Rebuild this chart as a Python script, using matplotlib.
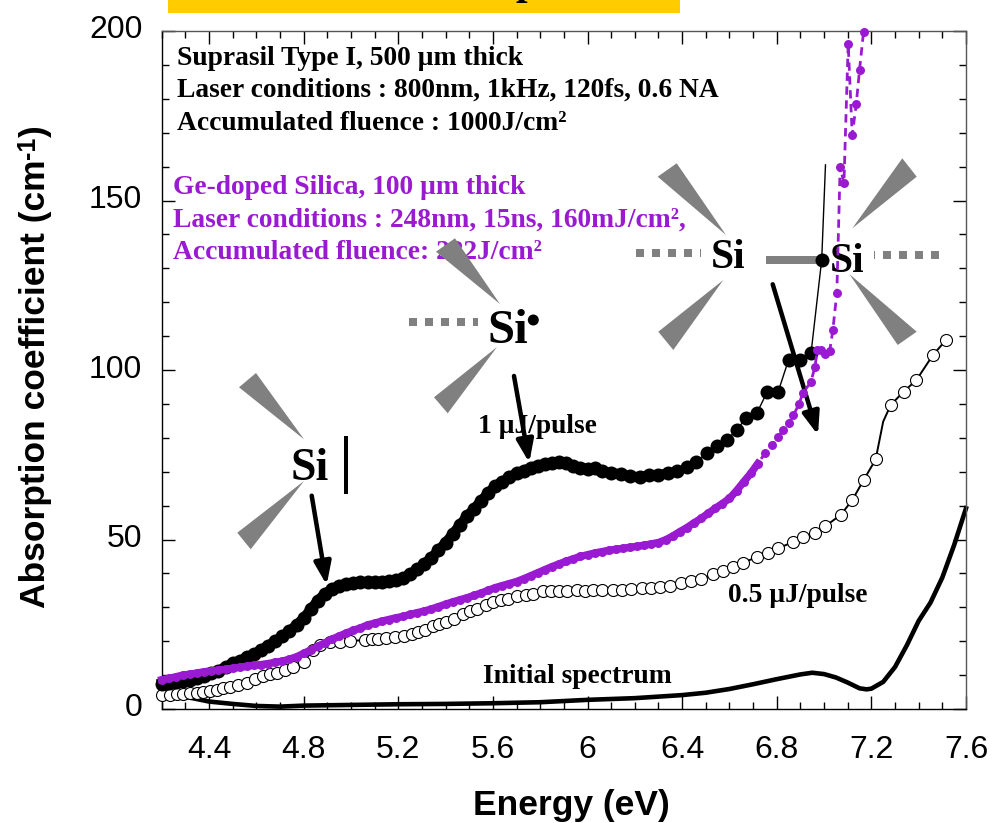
import matplotlib
matplotlib.use("Agg")
import matplotlib.pyplot as plt
from matplotlib.patches import Polygon, Rectangle, Circle
from matplotlib.ticker import MultipleLocator, FixedFormatter, FixedLocator
from matplotlib.transforms import ScaledTranslation

plt.rcParams['font.family'] = ['Liberation Sans', 'DejaVu Sans']

# 1 uJ/pulse
e_1uj = [4.20, 4.23, 4.26, 4.29, 4.32, 4.35, 4.38, 4.41, 4.44, 4.47, 4.50, 4.53, 4.56, 4.59, 4.62, 4.65,
         4.68, 4.71, 4.74, 4.77, 4.80, 4.83, 4.86, 4.89, 4.92, 4.95, 4.98, 5.01, 5.04, 5.07, 5.10, 5.13,
         5.16, 5.19, 5.22, 5.25, 5.28, 5.31, 5.34, 5.37, 5.40, 5.43, 5.46, 5.49, 5.52, 5.55, 5.58, 5.61,
         5.64, 5.67, 5.70, 5.73, 5.76, 5.79, 5.82, 5.85, 5.88, 5.91, 5.94, 5.97, 6.00, 6.03, 6.06, 6.10,
         6.14, 6.18, 6.22, 6.26, 6.30, 6.34, 6.38, 6.42, 6.46, 6.504, 6.546, 6.588, 6.63, 6.67, 6.716,
         6.76, 6.806, 6.85, 6.90, 6.945, 6.99, 7.006]
a_1uj = [7.5, 7.8, 8.0, 8.3, 8.6, 9.0, 9.6, 10.5, 11.3, 12.4, 13.5, 14.3, 15.2, 16.2, 17.4, 18.7,
         20.0, 21.4, 23.0, 24.8, 26.8, 29.4, 32.0, 34.0, 35.4, 36.4, 36.9, 37.1, 37.4, 37.5, 37.5, 37.5,
         37.7, 38.0, 38.6, 39.8, 41.2, 42.8, 44.6, 46.8, 49.0, 51.6, 54.2, 56.8, 59.0, 61.4, 63.6, 65.8,
         67.0, 68.4, 69.5, 70.3, 71.2, 71.8, 72.3, 72.6, 73.0, 72.5, 71.6, 71.0, 70.9, 71.0, 70.3, 69.6,
         69.3, 68.6, 68.4, 68.9, 69.0, 69.5, 70.2, 71.5, 73.0, 75.4, 77.7, 79.3, 82.3, 85.8, 87.3,
         93.6, 93.6, 103.0, 103.0, 105.0, 132.5, 160.5]

# 0.5 uJ/pulse
e_05uj = [4.20, 4.235, 4.263, 4.29, 4.32, 4.348, 4.375, 4.404, 4.432, 4.46, 4.489, 4.524, 4.559, 4.594,
          4.63, 4.658, 4.686, 4.72, 4.756, 4.80, 4.841, 4.869, 4.911, 4.954, 4.996, 5.059, 5.087, 5.115,
          5.15, 5.186, 5.224, 5.256, 5.285, 5.313, 5.348, 5.373, 5.402, 5.435, 5.475, 5.503, 5.531, 5.571,
          5.601, 5.633, 5.665, 5.703, 5.74, 5.768, 5.81, 5.845, 5.88, 5.914, 5.954, 5.988, 6.024, 6.06,
          6.106, 6.144, 6.182, 6.23, 6.27, 6.307, 6.347, 6.396, 6.438, 6.478, 6.531, 6.574, 6.616, 6.658,
          6.717, 6.761, 6.806, 6.867, 6.912, 6.96, 7.005, 7.071, 7.119, 7.167, 7.218, 7.25, 7.282, 7.336,
          7.39, 7.46, 7.515]
a_05uj = [4.1, 4.2, 4.3, 4.4, 4.6, 4.8, 4.9, 5.2, 5.6, 6.1, 6.6, 7.1, 7.8, 8.8,
          9.7, 10.2, 10.7, 11.5, 12.5, 14.0, 17.4, 18.8, 19.7, 19.9, 20.0, 20.4, 20.7, 20.7,
          20.9, 21.2, 21.6, 22.1, 22.7, 23.2, 24.6, 25.1, 25.8, 26.5, 27.9, 28.8, 29.5, 30.8,
          31.5, 32.1, 32.5, 33.4, 33.7, 34.0, 34.7, 34.9, 34.9, 34.9, 35.1, 34.8, 35.0, 35.0,
          35.1, 35.1, 35.3, 35.6, 35.6, 35.9, 36.3, 37.1, 37.8, 38.3, 39.7, 40.7, 41.9, 43.2,
          44.8, 46.0, 47.4, 49.2, 50.8, 51.9, 53.9, 57.3, 61.6, 67.5, 73.6, 84.8, 89.7, 93.6,
          97.0, 104.4, 108.8]
line_only_05uj = [7.25]

# Ge-doped silica
e_ge = [4.20, 4.23, 4.26, 4.29, 4.32, 4.35, 4.38, 4.41, 4.44, 4.47, 4.50, 4.53, 4.56, 4.59, 4.62, 4.65,
        4.68, 4.71, 4.74, 4.77, 4.80, 4.83, 4.86, 4.89, 4.92, 4.95, 4.98, 5.01, 5.04, 5.07, 5.10, 5.13,
        5.16, 5.19, 5.22, 5.25, 5.28, 5.31, 5.34, 5.37, 5.40, 5.43, 5.46, 5.49, 5.52, 5.55, 5.58, 5.61,
        5.64, 5.67, 5.70, 5.73, 5.76, 5.79, 5.82, 5.85, 5.88, 5.91, 5.94, 5.97, 6.00, 6.03, 6.06, 6.09,
        6.12, 6.15, 6.18, 6.21, 6.24, 6.27, 6.30, 6.33, 6.36, 6.39, 6.42, 6.45, 6.48, 6.51, 6.54, 6.57,
        6.60, 6.63, 6.66, 6.69, 6.72, 6.75, 6.782, 6.806, 6.827, 6.851, 6.87, 6.895, 6.909, 6.944, 6.961,
        6.972, 6.989, 7.006, 7.024, 7.037, 7.054, 7.068, 7.084, 7.102, 7.119, 7.136, 7.15, 7.167]
a_ge = [8.6, 9.0, 9.5, 10.0, 10.3, 10.6, 11.0, 11.2, 11.5, 11.7, 12.0, 12.3, 12.6, 12.9, 13.1, 13.4,
        13.8, 14.1, 14.7, 15.4, 16.4, 17.4, 18.5, 19.5, 20.6, 21.5, 22.4, 23.2, 23.9, 24.8, 25.3, 25.9,
        26.4, 26.9, 27.3, 27.9, 28.4, 28.9, 29.5, 30.2, 30.9, 31.6, 32.2, 32.8, 33.5, 34.2, 35.0, 35.8,
        36.4, 37.0, 37.6, 38.4, 39.3, 40.2, 41.1, 42.0, 42.8, 43.6, 44.3, 45.0, 45.5, 46.0, 46.4, 46.8,
        47.1, 47.4, 47.7, 48.0, 48.3, 48.7, 49.1, 49.9, 51.0, 52.3, 53.5, 54.9, 56.2, 57.7, 59.2, 60.6,
        62.1, 64.4, 67.0, 69.5, 72.4, 75.4, 77.9, 80.3, 82.3, 84.4, 86.7, 90.0, 93.1, 96.4, 100.8,
        105.9, 105.8, 104.6, 105.7, 111.7, 122.8, 160.0, 155.1, 196.2, 169.3, 178.4, 188.6, 199.8]

# initial spectrum
e_init = [4.22, 4.33, 4.40, 4.50, 4.60, 4.70, 4.80, 5.00, 5.20, 5.40, 5.60, 5.80, 6.00, 6.20, 6.40, 6.50,
          6.60, 6.70, 6.80, 6.90, 6.95, 7.00, 7.05, 7.10, 7.15, 7.18, 7.20, 7.25, 7.30, 7.35, 7.40, 7.45,
          7.50, 7.55, 7.60]
a_init = [4.5, 3.2, 2.2, 1.5, 0.9, 0.7, 1.0, 1.2, 1.4, 1.5, 1.7, 2.0, 2.7, 3.2, 4.1, 4.8,
          5.9, 7.3, 8.8, 10.2, 10.7, 10.3, 9.3, 7.8, 6.1, 5.8, 6.0, 8.0, 12.4, 18.8, 26.0, 31.4,
          38.8, 48.4, 59.2]

xtick_vals = [4.4, 4.8, 5.2, 5.6, 6.0, 6.4, 6.8, 7.2, 7.6]
xtick_labels = ['4.4', '4.8', '5.2', '5.6', '6', '6.4', '6.8', '7.2', '7.6']
ytick_vals = [0, 50, 100, 150, 200]

PURPLE = '#9A1AD2'
GRAY = '#808080'
W, H = 992, 823
px = 1 / 100 * 72  # points per pixel

fig = plt.figure(figsize=(W / 100, H / 100), dpi=100)

# overlay in image pixels, behind the data axes
ov = fig.add_axes([0, 0, 1, 1], zorder=1)
ov.set_xlim(0, W)
ov.set_ylim(H, 0)
ov.axis('off')

ax = fig.add_axes([161.7 / W, (H - 709) / H, (966 - 161.7) / W, (709 - 31) / H], zorder=2)
ax.patch.set_alpha(0)
ax.set_xlim(4.2, 7.6)
ax.set_ylim(0, 200)

ax.plot(e_init, a_init, color='k', lw=3.3, clip_on=False, zorder=2)

marks_05 = [i for i, e in enumerate(e_05uj) if e not in line_only_05uj]
ax.plot(e_05uj, a_05uj, color='k', lw=1.4, marker='o', ms=12 * px, mfc='white', mec='k', mew=0.8,
        markevery=marks_05, clip_on=False, zorder=3)

# markers run together below 6.4 eV
n_dense = e_1uj.index(6.38)
ax.plot(e_1uj[:n_dense], a_1uj[:n_dense], color='k', lw=10 * px, clip_on=False, zorder=4)
ax.plot(e_1uj, a_1uj, color='k', lw=1.0, marker='o', ms=14 * px, mew=0,
        markevery=list(range(len(e_1uj) - 1)), clip_on=False, zorder=4)

n_dense = e_ge.index(6.75)
ax.plot(e_ge[:n_dense], a_ge[:n_dense], color=PURPLE, lw=7.5 * px, clip_on=False, zorder=5)
ax.plot(e_ge, a_ge, color=PURPLE, lw=2.0, ls=(0, (3, 2)), marker='o', ms=9 * px, mew=0,
        clip_on=False, zorder=5)

ax.xaxis.set_major_locator(FixedLocator(xtick_vals))
ax.xaxis.set_major_formatter(FixedFormatter(xtick_labels))
ax.xaxis.set_minor_locator(MultipleLocator(0.1))
ax.yaxis.set_major_locator(FixedLocator(ytick_vals))
ax.yaxis.set_minor_locator(MultipleLocator(10))
ax.tick_params(which='major', direction='in', top=True, right=True, length=13 * px, width=1.0,
               labelsize=23)
ax.tick_params(which='minor', direction='in', top=True, right=True, length=7 * px, width=1.0)
ax.tick_params(axis='x', which='major', pad=19)
ax.tick_params(axis='y', which='major', pad=14)
for lab in ax.get_yticklabels():
    lab.set_transform(lab.get_transform() + ScaledTranslation(0, 4 / 100, fig.dpi_scale_trans))
for side in ['top', 'right']:
    ax.spines[side].set_color('#555555')
for side in ax.spines:
    ax.spines[side].set_linewidth(1.0)

ov.text(571, 805, 'Energy (eV)', ha='center', va='center', fontsize=25.5, fontweight='bold')

# y label in pieces so the exponent keeps a plain hyphen
renderer = fig.canvas.get_renderer()
ylab_y = 608
for piece, size, shift in [('Absorption coefficient (cm', 25.5, 0), ('-1', 18, 10), (')', 25.5, 0)]:
    t = ov.text(45 - shift, ylab_y, piece, rotation=90, rotation_mode='anchor', ha='left', va='baseline',
                fontsize=size, fontweight='bold')
    ylab_y -= t.get_window_extent(renderer).height

# banner cut off at the top of the slide
ov.add_patch(Rectangle((168, 0), 512, 13, color='#FFCC00', lw=0))
ov.text(527, -6, 'p', ha='center', va='baseline', fontsize=30, fontweight='bold',
        family='Liberation Serif', clip_on=True)


def note(x, y, s, color='k', size=19.8):
    ov.text(x, y, s, color=color, fontsize=size, fontweight='bold', family='Liberation Serif',
            ha='left', va='baseline')


note(177, 65, 'Suprasil Type I, 500 µm thick')
note(177, 96.7, 'Laser conditions : 800nm, 1kHz, 120fs, 0.6 NA')
note(177, 130, 'Accumulated fluence : 1000J/cm²')
note(173, 194, 'Ge-doped Silica, 100 µm thick', PURPLE)
note(173, 226.7, 'Laser conditions : 248nm, 15ns, 160mJ/cm²,', PURPLE)
note(173, 259, 'Accumulated fluence: 222J/cm²', PURPLE)
note(478, 432.7, '1 µJ/pulse')
note(727.7, 601.7, '0.5 µJ/pulse')
note(483, 682.7, 'Initial spectrum')

wedges = [
    [(657.7, 176.7), (676.7, 163.3), (726, 235)],
    [(658.3, 331.7), (673.3, 350), (723.3, 280)],
    [(852.3, 228.3), (902.3, 158.3), (916.7, 176.7)],
    [(849.3, 274), (897.7, 345), (916.7, 331.7)],
    [(436, 251.7), (455, 238.3), (500, 304)],
    [(434, 397.3), (447.7, 413.3), (497, 347)],
    [(239, 387.3), (256, 373), (304, 439.3)],
    [(237.3, 532.7), (250.7, 549.3), (304, 481)],
]
for tri in wedges:
    ov.add_patch(Polygon(tri, closed=True, color=GRAY, lw=0, zorder=3))

# dotted bonds
for x0, x1, y in [(636, 701, 253.3), (939, 874, 254.7), (409, 478, 322)]:
    ov.plot([x0, x1], [y, y], color=GRAY, lw=8 * px, ls=(0, (1, 1)), dash_capstyle='butt', zorder=3)
ov.plot([766, 820], [260, 260], color=GRAY, lw=8 * px, solid_capstyle='butt', zorder=3)
ov.plot([346, 346], [436, 494], color='k', lw=4 * px, solid_capstyle='butt', zorder=3)
ov.add_patch(Circle((533.3, 320), 5.5, color='k', lw=0, zorder=4))

for x, y, size in [(711, 268, 30), (830, 271.7, 30), (487, 343, 35), (290.5, 480, 33)]:
    ov.text(x, y, 'Si', fontsize=size, fontweight='bold', family='Liberation Serif',
            ha='left', va='baseline', zorder=4)

for start, end in [((772.7, 284.3), (818, 435)), ((514, 376), (529.3, 462.7)), ((311.7, 495.7), (326.7, 585))]:
    ov.annotate('', xy=end, xytext=start, xycoords='data', textcoords='data', zorder=5,
                arrowprops=dict(arrowstyle='-|>,head_length=0.8,head_width=0.3', color='k',
                                lw=4.5 * px, shrinkA=0, shrinkB=0, mutation_scale=17))

fig.savefig('out.png', dpi=100)
